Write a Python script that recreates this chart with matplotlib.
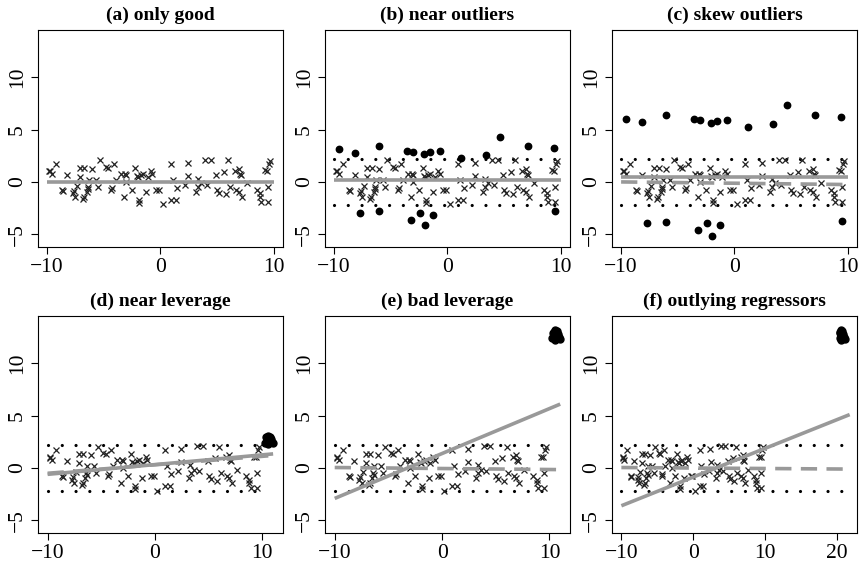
import matplotlib
matplotlib.use("Agg")
import matplotlib.pyplot as plt

plt.rcParams['font.family'] = ['Liberation Serif', 'DejaVu Serif']

# good points (shared by every panel)
good_x = [-9.8, -9.75, -9.6, -9.2, -8.7, -8.6, -8.2, -7.7, -7.65, -7.5, -7.4, -7.1, -7.1, -6.7,
          -6.8, -6.75, -6.5, -6.4, -6.35, -6.3, -6.0, -5.7, -5.5, -5.3, -4.8, -4.6, -4.4, -4.3,
          -4.1, -3.9, -3.5, -3.2, -3.1, -3.0, -3.0, -2.5, -2.2, -2.1, -2.0, -1.9, -1.9, -1.7,
          -1.5, -1.25, -1.1, -0.8, -0.7, -0.35, -0.1, 0.2, 0.95, 0.95, 1.1, 1.35, 1.5, 2.15,
          2.4, 2.45, 3.15, 3.3, 3.35, 3.6, 3.9, 4.1, 4.5, 4.9, 5.0, 5.2, 5.6, 5.75, 6.0, 6.1,
          6.6, 6.7, 6.9, 6.9, 7.0, 7.1, 7.2, 7.6, 8.5, 8.8, 8.8, 8.9, 9.2, 9.4, 9.5, 9.5,
          9.55, 9.7]
good_y = [1.05, 1.0, 0.8, 1.75, -0.75, -0.85, 0.65, -1.1, -0.9, -1.4, -0.35, 0.5, 1.35, 1.35,
          -1.65, -1.45, -0.95, -0.5, -0.7, 0.15, 1.2, 0.15, -0.45, 2.05, 1.45, 1.3, -0.8, -0.55,
          1.7, 0.15, 0.8, -1.45, 0.8, 0.65, 0.0, -0.75, 1.3, 0.55, 0.5, -1.75, -2.0, 0.65,
          0.8, -0.95, 0.5, 1.05, 0.8, -0.8, -0.75, -2.15, 1.7, -1.75, 0.15, -1.7, -0.55, -0.3,
          1.8, 0.55, -0.95, 0.3, -0.5, -0.15, 2.1, -0.3, 2.1, 0.65, -0.75, -1.05, 0.95, -1.2,
          2.05, -0.5, 1.05, -0.75, 1.25, -0.95, 0.8, 0.65, -1.4, -0.15, -0.75, -1.1, -1.45, -1.9,
          1.1, 1.05, -0.5, -1.9, 1.75, 2.0]

# outliers in (b) and (c)
out_x = [-9.55, -8.2, -7.7, -6.0, -6.05, -3.6, -3.2, -3.0, -2.4, -2.1, -1.95, -1.5, -1.25,
         -0.7, 1.2, 3.4, 4.65, 7.1, 9.4, 9.5]
near_out_y = [3.1, 2.8, -2.95, 3.4, -2.8, 2.95, -3.6, 2.85, -2.95, 2.65, -4.15, 2.85, -3.2,
              2.95, 2.3, 2.55, 4.3, 3.4, 3.25, -2.8]
skew_out_y = [6.05, 5.75, -3.9, 6.35, -3.8, 6.0, -4.55, 5.9, -3.9, 5.65, -5.15, 5.85, -4.15,
              5.95, 5.25, 5.5, 7.3, 6.35, 6.2, -3.75]

# leverage clusters in (d), (e), (f)
lev_x = [10.2, 10.4, 10.5, 10.6, 10.7, 10.9, 11.0, 10.3, 10.8, 10.5]
lev_x_far = [20.4, 20.5, 20.6, 20.7, 20.8, 21.0, 21.1, 20.5, 20.9, 20.6]
near_lev_y = [2.4, 2.9, 3.1, 2.6, 3.0, 2.5, 2.4, 3.0, 2.8, 2.3]
bad_lev_y = [12.4, 13.0, 13.2, 12.6, 13.1, 12.5, 12.3, 12.9, 12.8, 12.2]

titles = ['(a) only good', '(b) near outliers', '(c) skew outliers',
          '(d) near leverage', '(e) bad leverage', '(f) outlying regressors']

# fitted lines: (x0, x1, y0, y1)
ls_fits = [(-10, 10, 0.0, 0.0), (-10, 10, 0.15, 0.15), (-10, 10, 0.45, 0.45),
           (-10, 11, -0.6, 1.35), (-10, 11, -2.9, 6.1), (-10, 21.8, -3.6, 5.1)]
rob_fits = [None, None, (-10, 10, 0.0, -0.25),
            (-10, 11, -0.5, 1.2), (-10, 11, 0.05, -0.15), (-10, 21.8, 0.05, -0.1)]
band = 2.2
band_x = [None, (-10, 10), (-10, 10), (-10, 10.5), (-10, 10.5), (-10, 21.2)]

fig = plt.figure(figsize=(8.59, 5.65), dpi=100)
lefts = [0.0442, 0.3784, 0.7125]
bottoms = [0.563, 0.0566]
w, h = 0.285, 0.384

for i in range(6):
    ax = fig.add_axes([lefts[i % 3], bottoms[i // 3], w, h])
    if band_x[i] is not None:
        for yb in (band, -band):
            ax.plot(band_x[i], [yb, yb], color='black', lw=2.3,
                    linestyle=(0, (0.01, 4.3)), dash_capstyle='round')
    ax.plot(good_x, good_y, 'x', color='#222222', ms=4.2, mew=0.9)
    if i == 1:
        ax.plot(out_x, near_out_y, 'o', color='black', ms=4.6)
    if i == 2:
        ax.plot(out_x, skew_out_y, 'o', color='black', ms=4.6)
    if i == 3:
        ax.plot(lev_x, near_lev_y, 'o', color='black', ms=5)
    if i == 4:
        ax.plot(lev_x, bad_lev_y, 'o', color='black', ms=5)
    if i == 5:
        ax.plot(lev_x_far, bad_lev_y, 'o', color='black', ms=5)
    f = ls_fits[i]
    ax.plot(f[:2], f[2:], color='#999999', lw=2.6, solid_capstyle='butt')
    r = rob_fits[i]
    if r is not None:
        ax.plot(r[:2], r[2:], color='#999999', lw=2.6, linestyle=(0, (4.5, 2.6)))
    if i < 3:
        ax.set_xlim(-10.8, 10.8)
        ax.set_xticks([-10, 0, 10])
    elif i < 5:
        ax.set_xlim(-10.9, 11.9)
        ax.set_xticks([-10, 0, 10])
    else:
        ax.set_xlim(-11.3, 22.8)
        ax.set_xticks([-10, 0, 10, 20])
    ax.set_xticklabels([str(t).replace('-', '\u2212') for t in ax.get_xticks().astype(int)])
    ax.set_ylim(-6.2, 14.5)
    ax.set_yticks([-5, 0, 5, 10])
    ax.set_yticklabels(['\u22125', '0', '5', '10'], rotation=90, va='center')
    ax.tick_params(direction='out', length=5, width=0.8, labelsize=15.5, pad=3)
    for s in ax.spines.values():
        s.set_linewidth(0.8)
    ax.set_title(titles[i], fontsize=14, fontweight='bold', pad=7)

fig.savefig('out.png', dpi=100)
